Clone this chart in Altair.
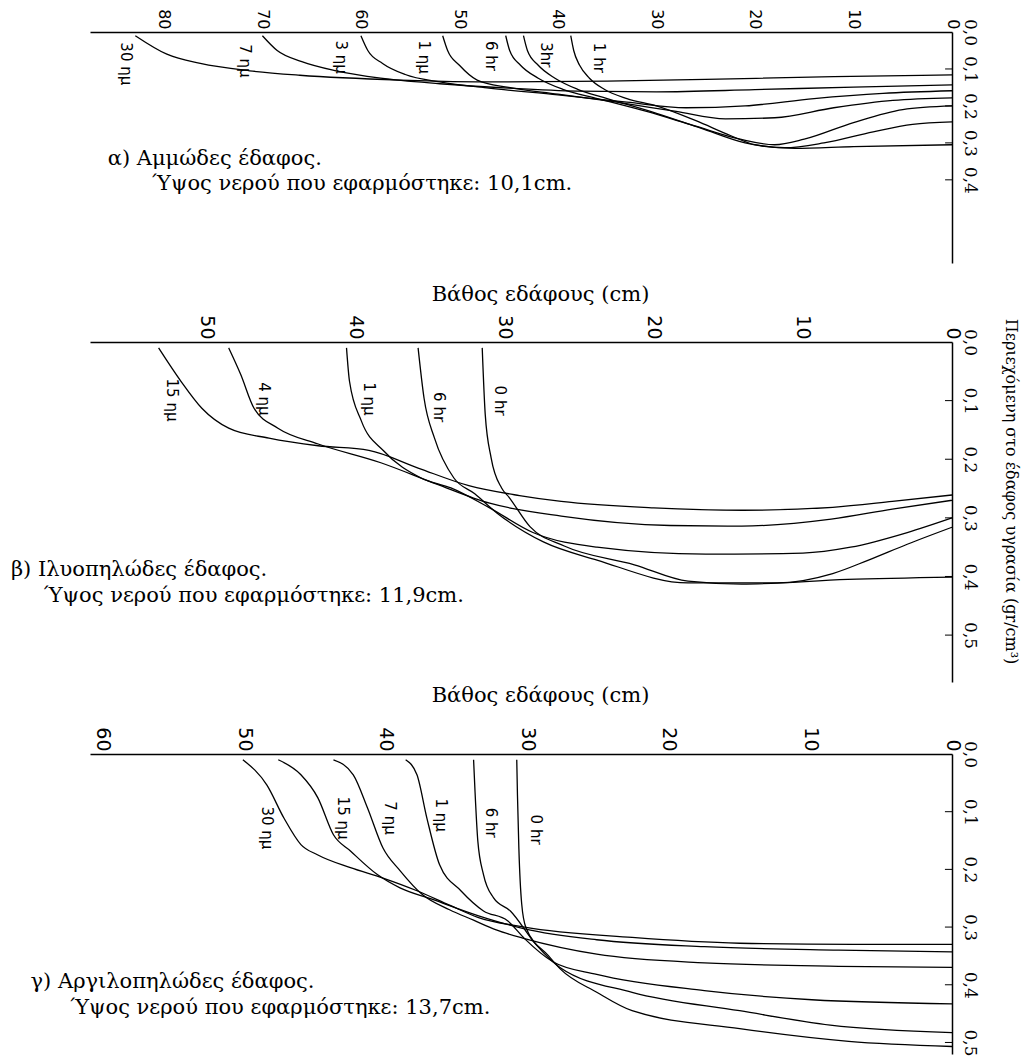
import altair as alt
import pandas as pd

SERIF = "DejaVu Serif"
SANS = "DejaVu Sans"

# ---------------- Panel α: sandy soil ----------------
SAND_CURVES = ["30 ημ", "7 ημ", "3 ημ", "1 ημ", "6 hr", "3hr", "1 hr"]
SAND_DEPTH = [
    [82.9, 79.7, 76.3, 71.3, 66.2, 56, 46, 35, 25, 12, 0],
    [70, 68.5, 66, 62.5, 58, 52, 45, 38, 30, 20, 10, 0],
    [60, 59.3, 57.8, 55.5, 52, 47, 40, 33, 27, 21, 14, 7, 0],
    [51.7, 51.2, 50, 48.2, 45, 40, 34, 28, 23, 18, 12, 6, 0],
    [45.3, 44.9, 43.8, 42, 39.5, 36, 31, 26, 21.5, 18, 15, 10, 5, 0],
    [43.5, 43.1, 42, 40.3, 38, 35, 30, 25.5, 21, 17, 13, 8, 4, 0],
    [38.7, 38.4, 37.8, 36.8, 35.3, 33, 30, 26, 22.5, 20, 16, 10, 0],
]
SAND_THETA = [
    [0.01, 0.06, 0.085, 0.105, 0.117, 0.13, 0.135, 0.133, 0.128, 0.121, 0.116],
    [0.01, 0.05, 0.08, 0.105, 0.125, 0.14, 0.152, 0.16, 0.162, 0.156, 0.149, 0.143],
    [0.01, 0.05, 0.085, 0.115, 0.135, 0.152, 0.17, 0.19, 0.205, 0.2, 0.18, 0.166, 0.159],
    [0.01, 0.05, 0.09, 0.13, 0.15, 0.168, 0.19, 0.215, 0.235, 0.232, 0.205, 0.185, 0.178],
    [0.01, 0.05, 0.09, 0.125, 0.155, 0.18, 0.215, 0.255, 0.29, 0.305, 0.29, 0.245, 0.21, 0.2],
    [0.01, 0.05, 0.09, 0.125, 0.155, 0.18, 0.22, 0.26, 0.3, 0.313, 0.3, 0.27, 0.25, 0.243],
    [0.01, 0.05, 0.09, 0.125, 0.155, 0.18, 0.2, 0.24, 0.28, 0.305, 0.315, 0.31, 0.305],
]
SAND_LABEL_D = [83.8, 71.8, 62.0, 53.6, 46.8, 41.2, 35.8]
SAND_LABEL_T = [0.086, 0.078, 0.068, 0.068, 0.065, 0.062, 0.07]
SAND_NOTES = ["α) Αμμώδες έδαφος.", "Ύψος νερού που εφαρμόστηκε: 10,1cm."]
SAND_NOTE_D = [85.7, 81.2]
SAND_NOTE_T = [0.343, 0.411]
SAND_XTICKS = [0, 10, 20, 30, 40, 50, 60, 70, 80]
SAND_YTICKS = [0.0, 0.1, 0.2, 0.3, 0.4]

# ---------------- Panel β: silt loam ----------------
SILT_CURVES = ["15 ημ", "4 ημ", "1 ημ", "6 hr", "0 hr"]
SILT_DEPTH = [
    [53.2, 51.7, 50.3, 48.5, 45.8, 42.5, 39.1, 35.8, 32.4, 29, 26.2, 20, 14, 8, 4, 0],
    [48.5, 47.7, 46.8, 45.2, 42.5, 38.3, 34.6, 31, 26.2, 18.9, 14.1, 8.1, 4, 0],
    [40.6, 40.4, 39.6, 38.1, 35.6, 33.6, 31, 28.1, 23.8, 16.5, 10, 6.8, 3, 0],
    [35.8, 35.4, 34.7, 33.4, 32, 30.5, 27.4, 23.8, 17.7, 11.7, 8, 5.6, 3, 0],
    [31.5, 31.3, 30.9, 30.2, 29.7, 28.3, 26, 21.3, 17.7, 14.1, 7, 0],
]
SILT_THETA = [
    [0.01, 0.067, 0.113, 0.147, 0.164, 0.177, 0.185, 0.215, 0.245, 0.262, 0.272, 0.283, 0.287, 0.282, 0.272, 0.261],
    [0.01, 0.055, 0.113, 0.147, 0.174, 0.206, 0.242, 0.275, 0.297, 0.313, 0.314, 0.302, 0.285, 0.27],
    [0.01, 0.067, 0.135, 0.186, 0.232, 0.249, 0.283, 0.325, 0.35, 0.362, 0.36, 0.35, 0.325, 0.30],
    [0.01, 0.096, 0.164, 0.232, 0.259, 0.292, 0.341, 0.372, 0.411, 0.411, 0.395, 0.372, 0.345, 0.316],
    [0.01, 0.123, 0.198, 0.249, 0.265, 0.315, 0.348, 0.38, 0.408, 0.413, 0.405, 0.401],
]
SILT_LABEL_D = [52.3, 46.1, 39.1, 34.4, 30.3]
SILT_LABEL_T = [0.099, 0.097, 0.097, 0.111, 0.1]
SILT_NOTES = ["β) Ιλυοπηλώδες έδαφος.", "Ύψος νερού που εφαρμόστηκε: 11,9cm."]
SILT_NOTE_D = [63.1, 60.9]
SILT_NOTE_T = [0.389, 0.434]
SILT_XTICKS = [0, 10, 20, 30, 40, 50]
SILT_YTICKS = [0.0, 0.1, 0.2, 0.3, 0.4, 0.5]

# ---------------- Panel γ: clay loam ----------------
CLAY_CURVES = ["30 ημ", "15 ημ", "7 ημ", "1 ημ", "6 hr", "0 hr"]
CLAY_DEPTH = [
    [50.1, 48.4, 47.2, 46, 44.8, 42.5, 40.2, 37.8, 35.5, 33.5, 30.2, 22.6, 15, 7, 0],
    [47.6, 46, 44.8, 43.7, 42.5, 40.6, 39, 36.7, 33.5, 30.2, 25.1, 17.5, 8, 0],
    [43.7, 42.3, 41.3, 40.2, 39, 37.4, 35.5, 33.8, 32.2, 30.2, 25.1, 17.5, 8, 0],
    [38.6, 37.8, 37.1, 36.2, 34.7, 33.1, 31.4, 30.2, 28.2, 25.1, 17.5, 9.9, 0],
    [33.8, 33.7, 33.5, 33.1, 32.4, 31.2, 29.4, 27.7, 22.6, 15, 8.6, 0],
    [30.75, 30.7, 30.6, 30.4, 30.1, 28.5, 27.7, 25.1, 22.6, 15, 7.3, 0],
]
CLAY_THETA = [
    [0.01, 0.054, 0.111, 0.157, 0.175, 0.197, 0.215, 0.237, 0.262, 0.283, 0.3, 0.318, 0.328, 0.33, 0.33],
    [0.01, 0.036, 0.076, 0.14, 0.168, 0.209, 0.232, 0.252, 0.28, 0.303, 0.322, 0.334, 0.34, 0.343],
    [0.01, 0.036, 0.093, 0.163, 0.202, 0.244, 0.27, 0.288, 0.305, 0.32, 0.347, 0.362, 0.368, 0.37],
    [0.01, 0.036, 0.111, 0.192, 0.237, 0.272, 0.289, 0.32, 0.36, 0.382, 0.41, 0.426, 0.433],
    [0.01, 0.064, 0.151, 0.209, 0.249, 0.272, 0.33, 0.37, 0.413, 0.445, 0.47, 0.483],
    [0.01, 0.071, 0.164, 0.26, 0.301, 0.35, 0.372, 0.413, 0.445, 0.476, 0.498, 0.507],
]
CLAY_LABEL_D = [48.4, 43.0, 39.7, 36.1, 32.6, 29.4]
CLAY_LABEL_T = [0.128, 0.111, 0.111, 0.106, 0.119, 0.131]
CLAY_NOTES = ["γ) Αργιλοπηλώδες έδαφος.", "Ύψος νερού που εφαρμόστηκε: 13,7cm."]
CLAY_NOTE_D = [65.1, 62.3]
CLAY_NOTE_T = [0.396, 0.440]
CLAY_XTICKS = [0, 10, 20, 30, 40, 50, 60]
CLAY_YTICKS = [0.0, 0.1, 0.2, 0.3, 0.4, 0.5]

DEPTH_TITLE = "Βάθος εδάφους (cm)"
MOIST_TITLE = "Περιεχόμενη στο έδαφος υγρασία (gr/cm³)"


def panel(names, depths, thetas, lab_d, lab_t, notes, note_d, note_t,
          xmax, ymax, width, height, xticks, yticks, tick_len,
          xlabel_size=19, xtitle=None, xtitle_pad=10, ytitle=None):
    rows = []
    for n, ds, ts in zip(names, depths, thetas):
        for i, (d, t) in enumerate(zip(ds, ts)):
            rows.append({"curve": n, "d": d, "theta": t, "i": i})
    line_df = pd.DataFrame(rows)
    lab_df = pd.DataFrame({"label": names, "d": lab_d, "theta": lab_t})
    note_df = pd.DataFrame({"note": notes, "d": note_d, "theta": note_t})
    tick_df = pd.DataFrame({"theta": [v for v in yticks if v > 0]})
    tick_df["d"] = 0.0
    tick_df["d2"] = tick_len

    xaxis = dict(orient="top", values=xticks, format="d", labelAngle=90,
                 labelAlign="right", labelBaseline="middle", ticks=False,
                 labelPadding=3, grid=False, domainColor="black", domainWidth=1.5,
                 labelFont=SANS, labelFontSize=xlabel_size, labelColor="black",
                 labelOverlap=False)
    if xtitle:
        xaxis.update(title=xtitle, titleFont=SERIF, titleFontSize=21,
                     titleFontWeight="normal", titleColor="black",
                     titlePadding=xtitle_pad, titleX=450, titleAlign="center")
    else:
        xaxis.update(title=None)
    yaxis = dict(orient="right", values=yticks, labelAngle=90, labelAlign="center",
                 labelBaseline="bottom", ticks=False, labelPadding=8, grid=False,
                 domainColor="black", domainWidth=1.5, labelFont=SERIF,
                 labelFontSize=17, labelColor="black", labelOverlap=False,
                 labelExpr="replace(format(datum.value, '.1f'), '.', ',')")
    if ytitle:
        yaxis.update(title=ytitle, titleFont=SERIF, titleFontSize=16,
                     titleFontWeight="normal", titleColor="black", titleAngle=90,
                     titlePadding=24, titleY=149, titleAlign="center",
                     titleBaseline="bottom")
    else:
        yaxis.update(title=None)

    X = alt.X("d:Q", scale=alt.Scale(domain=[0, xmax], reverse=True, nice=False, zero=False),
              axis=alt.Axis(**xaxis))
    Y = alt.Y("theta:Q", scale=alt.Scale(domain=[0, ymax], reverse=True, nice=False, zero=False),
              axis=alt.Axis(**yaxis))

    ticks = alt.Chart(tick_df).mark_rule(color="black", strokeWidth=1).encode(
        x=X, x2="d2:Q", y=Y)
    lines = alt.Chart(line_df).mark_line(color="black", strokeWidth=1.3,
                                         interpolate="monotone").encode(
        x=X, y=Y, detail="curve:N", order="i:Q")
    labels = alt.Chart(lab_df).mark_text(angle=90, font=SANS, fontSize=15,
                                         color="black").encode(x=X, y=Y, text="label:N")
    note = alt.Chart(note_df).mark_text(align="left", baseline="middle", font=SERIF,
                                        fontSize=21, color="black").encode(
        x=X, y=Y, text="note:N")
    return alt.layer(ticks, lines, labels, note).properties(width=width, height=height)


p1 = panel(SAND_CURVES, SAND_DEPTH, SAND_THETA, SAND_LABEL_D, SAND_LABEL_T,
           SAND_NOTES, SAND_NOTE_D, SAND_NOTE_T, 87.5, 0.625, 862, 231,
           SAND_XTICKS, SAND_YTICKS, 0.7, xlabel_size=16)
p2 = panel(SILT_CURVES, SILT_DEPTH, SILT_THETA, SILT_LABEL_D, SILT_LABEL_T,
           SILT_NOTES, SILT_NOTE_D, SILT_NOTE_T, 57.8, 0.58, 862, 340,
           SILT_XTICKS, SILT_YTICKS, 0.47, xtitle=DEPTH_TITLE, xtitle_pad=10,
           ytitle=MOIST_TITLE)
p3 = panel(CLAY_CURVES, CLAY_DEPTH, CLAY_THETA, CLAY_LABEL_D, CLAY_LABEL_T,
           CLAY_NOTES, CLAY_NOTE_D, CLAY_NOTE_T, 60.9, 0.52, 862, 300,
           CLAY_XTICKS, CLAY_YTICKS, 0.5, xtitle=DEPTH_TITLE, xtitle_pad=21)

top = alt.vconcat(p1, p2, spacing=20).resolve_scale(x="independent", y="independent")
chart = alt.vconcat(top, p3, spacing=2).resolve_scale(
    x="independent", y="independent").properties(
    padding={"left": 2, "top": 0, "right": 4, "bottom": 0}
).configure_view(stroke=None)

chart.save("out.html", embed_options={"renderer": "svg", "actions": False})
